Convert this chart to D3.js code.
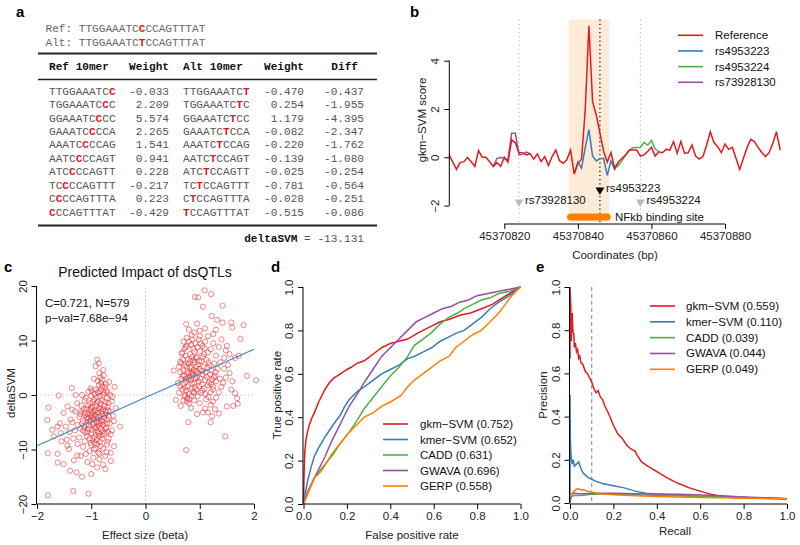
<!DOCTYPE html>
<html><head><meta charset="utf-8">
<script src="https://cdn.jsdelivr.net/npm/d3@7"></script>
<style>body{margin:0;background:#fff} svg{display:block}</style>
</head><body>
<svg id="fig" width="800" height="545"></svg>
<script>
// ================= DATA =================
// Panel a
const refSeq = "TTGGAAATCCCCAGTTTAT";
const altSeq = "TTGGAAATCTCCAGTTTAT";
const snpPos = 9;
const tableHeaders = ["Ref 10mer", "Weight", "Alt 10mer", "Weight", "Diff"];
const refKmers = ["TTGGAAATCC","TGGAAATCCC","GGAAATCCCC","GAAATCCCCA","AAATCCCCAG","AATCCCCAGT","ATCCCCAGTT","TCCCCAGTTT","CCCCAGTTTA","CCCAGTTTAT"];
const altKmers = ["TTGGAAATCT","TGGAAATCTC","GGAAATCTCC","GAAATCTCCA","AAATCTCCAG","AATCTCCAGT","ATCTCCAGTT","TCTCCAGTTT","CTCCAGTTTA","TCCAGTTTAT"];
const refWeights = ["-0.033","2.209","5.574","2.265","1.541","0.941","0.228","-0.217","0.223","-0.429"];
const altWeights = ["-0.470","0.254","1.179","-0.082","-0.220","-0.139","-0.025","-0.781","-0.028","-0.515"];
const diffs = ["-0.437","-1.955","-4.395","-2.347","-1.762","-1.080","-0.254","-0.564","-0.251","-0.086"];
const deltaSVMValue = "-13.131";

// Panel b
const bpStart = 45370805;
const refScore = [0.1,-0.2,-0.5,-0.22,-0.18,0.0,-0.18,-0.38,0.28,0.0,
  0.0,-0.18,-0.38,-0.22,-0.38,0.0,-0.2,0.72,0.6,0.19,
  0.19,0.1,0.15,-0.08,0.14,-0.18,0.03,-0.34,0.03,0.3,
  -0.14,-0.25,-0.1,0.3,-0.69,-0.25,-0.08,1.95,5.45,2.3,
  1.75,1.0,0.25,-0.2,0.2,-0.45,-0.2,-0.04,0.1,0.3,
  0.3,0.3,0.05,0.1,0.25,0.41,0.05,0.23,0.19,0.33,
  0.3,0.65,0.17,0.65,0.17,0.19,0.51,0.05,-0.07,0.03,
  0.5,1.06,0.61,0.44,0.19,0.55,0.33,0.41,-0.04,-0.5,
  -0.04,0.4,0.74,0.65,0.41,0.2,0.03,0.19,0.58,1.06,0.3];
const rs4953223Start = 34;
const rs4953223Score = [-0.69,-0.2,-0.45,0.4,1.15,0.05,-0.15,-0.05,-0.05,-0.75,-0.15,-0.5,-0.2];
const rs4953224Start = 45;
const rs4953224Score = [-0.45,-0.35,-0.15,0.1,0.3,0.4,0.41,0.42,0.62,0.5,0.7,0.35,0.23];
const rs73928130Start = 12;
const rs73928130Score = [-0.38,-0.05,0.0,-0.05,-0.1,1.0,1.0,0.1,0.12,0.22,0.15];
const snpNames = ["rs73928130","rs4953223","rs4953224"];
const snpCoords = [45370824, 45370846, 45370857];
const nfkbSite = [45370838, 45370848];
const bTicksX = [45370820, 45370840, 45370860, 45370880];
const bTicksY = [-2, 0, 2, 4];
const bLegend = ["Reference","rs4953223","rs4953224","rs73928130"];

// Panel c
const cTicksX = [-2,-1,0,1,2];
const cTicksY = [-20,-10,0,10,20];
const fitX = [-2, 2];
const fitY = [-9.3, 8.4];
const dsqtlPoints = [
 [-1.8,-18.4],[-1.05,-18.1],[-1.33,-17.6],[-1.39,-13.9],[-1.17,-15.0],[-1.27,-14.2],[-1.51,-12.7],[-1.62,-12.4],[-1.8,-10.7],[-1.62,-10.8],
 [-1.41,-9.9],[-1.44,-9.3],[-1.26,-11.1],[-1.2,-11.2],[-1.07,-12.3],[-0.98,-12.7],[-0.89,-13.3],[-0.74,-13.6],[-0.64,-12.1],[-0.64,-10.6],
 [-0.74,-11.2],[-0.87,-10.6],[-0.95,-10.0],[-1.01,-8.8],[-0.83,-9.4],[-0.71,-9.1],[-0.58,-9.4],[-0.47,-5.8],[-0.58,-4.8],[-0.55,-2.4],
 [-0.61,-0.3],[-0.57,1.5],[-0.67,2.4],[-0.77,3.6],[-0.89,6.5],[-0.92,5.3],[-1.01,1.2],[-1.17,0.0],[-1.29,0.0],[-1.36,1.3],
 [-1.6,-0.1],[-1.79,-2.3],[-1.72,-6.4],[-1.62,-5.8],[-1.56,-7.0],[-1.47,-5.8],[-1.51,-3.3],[-1.44,-2.1],[-1.35,-2.7],[-1.26,-1.5],
 [-1.58,-5.2],[-1.69,-7.6],[-1.81,-4.6],[-1.55,-8.5],[-1.3,-6.5],[-1.22,-7.8],[-1.15,-9.5],[-1.1,-10.8],[-1.32,-12.0],[-1.0,-14.5],
 [-0.85,-11.8],[-0.78,-12.8],[-0.68,-8.0],[-0.62,-6.5],[-0.66,-3.0],[-0.7,0.5],[-0.75,1.5],[-0.82,2.2],[-0.95,3.0],[-0.85,4.0],
 [-1.1,-0.5],[-1.2,-3.5],[-1.38,-4.5],[-1.45,-8.2],
 [-1.05,-4.2],[-1.0,-3.8],[-0.95,-4.5],[-0.9,-5.0],[-0.85,-4.0],[-0.8,-3.5],[-0.78,-5.5],[-0.82,-6.2],[-0.88,-6.8],[-0.92,-2.8],
 [-0.98,-2.2],[-1.02,-1.5],[-1.08,-2.5],[-1.12,-3.2],[-1.15,-4.8],[-1.1,-5.5],[-1.05,-6.2],[-1.0,-7.0],[-0.95,-7.8],[-0.9,-8.3],
 [-0.85,-7.5],[-0.8,-8.0],[-0.75,-7.0],[-0.72,-6.0],[-0.7,-4.5],[-0.73,-3.0],[-0.76,-2.0],[-0.8,-1.0],[-0.84,-0.2],[-0.88,0.5],
 [-0.82,1.0],[-0.78,0.0],[-0.74,-1.2],[-0.7,-2.2],[-0.68,-1.5],[-0.72,0.8],[-0.9,-1.5],[-0.95,-0.8],[-1.0,-0.2],[-1.05,0.6],
 [-1.12,-1.0],[-1.18,-2.0],[-1.22,-4.0],[-1.25,-5.5],[-1.15,-6.5],[-1.08,-7.5],[-1.12,-8.5],[-1.0,-9.2],[-0.92,-9.8],[-0.78,-9.8],
 [-0.72,-10.5],[-0.85,-10.8],[-0.96,-11.5],[-1.03,-10.3],[-0.88,-3.2],[-0.83,-2.4],[-0.87,-5.6],[-0.93,-6.1],[-0.97,-5.3],[-1.03,-4.9],
 [-0.99,-3.3],[-0.94,-3.6],[-0.89,-4.3],[-0.81,-4.7],[-0.76,-4.2],[-0.79,-6.6],[-0.86,-7.1],[-0.91,-7.3],[-1.06,-3.5],[-1.09,-4.1],
 [-1.13,-5.9],[-1.2,-6.2],[-0.66,-5.2],[-0.64,-7.2],[-0.7,-8.6],[-0.6,-3.8],[-0.62,-1.2],[-0.65,0.0],[-0.73,2.0],[-0.8,2.8],
 [-0.86,1.8],[-0.92,1.0],[-0.97,-1.3],[-1.02,-2.8],[-1.3,-3.0],[-1.35,-5.0],[-1.4,-6.8],[-1.25,-9.0],[-1.33,-8.0],
 [-1.04,-5.6],[-0.99,-6.4],[-0.94,-5.8],[-0.9,-6.0],[-0.86,-5.0],[-0.83,-5.2],[-0.79,-4.9],[-0.77,-3.8],[-0.81,-3.0],[-0.86,-2.6],
 [-0.91,-3.9],[-0.96,-4.1],[-1.01,-4.6],[-1.07,-4.4],[-1.11,-3.7],[-1.14,-2.6],[-1.06,-1.9],[-1.01,-2.5],[-0.96,-3.0],[-0.92,-2.0],
 [-0.87,-1.2],[-0.83,-1.6],[-0.78,-2.6],[-0.74,-3.6],[-0.71,-5.2],[-0.75,-6.2],[-0.79,-7.4],[-0.84,-8.6],[-0.89,-9.0],[-0.94,-8.8],
 [-0.98,-8.2],[-1.03,-8.0],[-1.07,-6.8],[-1.11,-6.9],[-1.17,-5.2],[-1.19,-3.0],[-0.69,-6.8],[-0.67,-4.0],[-0.69,-2.8],[-0.71,-0.6],
 [-0.76,0.4],[-0.8,1.6],[-0.84,0.6],[-0.9,-0.4],[-0.94,0.2],[-0.99,0.8],[-0.88,2.6],[-0.83,3.2],[-0.78,4.6],[-0.86,5.8],
 [1.09,19.2],[1.21,18.5],[0.91,18.0],[0.97,17.9],[1.06,16.2],[1.42,16.4],[0.75,13.0],[0.95,13.1],[1.22,14.5],[1.32,13.8],
 [1.42,13.3],[1.58,13.3],[1.81,12.8],[1.6,12.4],[1.75,10.3],[2.04,2.7],[1.87,3.5],[1.69,-0.6],[1.7,-1.6],[1.62,-2.0],
 [1.5,-2.1],[1.47,-7.6],[1.2,-5.0],[1.06,-3.2],[1.23,-3.9],[0.79,-5.0],[0.75,-10.1],[0.95,-3.5],[0.84,-2.4],[0.56,-0.9],
 [0.52,4.5],[0.64,6.1],[0.67,7.6],[0.74,8.8],[1.3,12.0],[1.1,12.2],[0.85,11.0],[1.0,11.8],[1.15,10.8],[1.25,11.2],
 [1.4,10.2],[1.5,9.0],[1.55,7.5],[1.65,6.8],[1.72,7.2],[1.48,8.2],[1.38,6.0],[1.45,4.8],[1.55,4.0],[1.6,2.5],
 [1.4,1.5],[1.35,0.5],[1.3,-0.5],[1.2,-1.8],[1.1,-2.5],[1.0,-1.5],[0.9,-1.0],[0.8,-1.5],[0.7,-1.0],[0.65,-2.0],
 [1.28,-2.6],[1.15,-3.2],[1.35,-3.4],
 [0.7,2.0],[0.75,3.0],[0.8,4.0],[0.85,5.0],[0.9,6.0],[0.95,7.0],[1.0,8.0],[1.05,9.0],[0.72,5.5],[0.78,6.5],
 [0.82,7.5],[0.88,8.5],[0.92,9.5],[0.98,10.2],[0.7,9.8],[0.76,10.5],[0.84,9.2],[1.08,7.5],[1.12,6.5],[1.18,5.5],
 [1.22,4.5],[1.28,3.5],[1.3,2.5],[1.25,1.5],[1.2,0.5],[1.15,1.8],[1.1,2.8],[1.05,3.8],[1.0,4.8],[0.95,3.2],
 [0.9,2.2],[0.85,1.2],[0.8,0.2],[0.75,0.8],[0.72,-0.3],[0.68,1.0],[0.66,3.0],[0.64,4.2],[0.6,2.2],[0.62,0.4],
 [0.87,3.6],[0.93,4.4],[0.97,5.6],[1.03,6.2],[1.07,5.2],[1.13,3.3],[1.17,2.3],[1.23,2.8],[1.27,5.8],[1.33,4.8],
 [1.37,3.0],[1.43,2.2],[1.3,7.2],[1.2,8.4],[1.1,9.8],[1.0,10.8],[0.9,11.5],[0.8,12.0],[0.74,7.2],[0.83,2.7],
 [0.78,1.6],[0.88,0.6],[0.96,-0.2],[1.02,0.4],[1.08,1.2],[1.12,-0.8],[0.7,4.5],[0.76,5.2],[0.81,3.3],[0.86,2.1],
 [0.91,1.4],[0.98,2.5],[1.04,1.9],[0.73,1.3],[0.77,-0.6],[0.69,6.5],[0.93,6.8],[0.99,6.2],[1.15,7.8],[1.25,9.5],
 [1.35,8.8],[1.45,6.8],[1.52,5.5],[1.48,3.2],[1.58,1.0],[1.65,0.3],
 [0.71,3.6],[0.74,2.4],[0.77,4.2],[0.79,5.8],[0.83,6.2],[0.86,7.0],[0.89,4.6],[0.92,3.0],[0.94,5.2],[0.97,4.0],
 [1.01,3.0],[1.04,4.4],[1.06,7.0],[1.09,8.6],[1.11,4.2],[1.14,5.0],[1.16,6.0],[1.19,3.8],[1.21,2.0],[1.24,1.0],
 [1.26,3.2],[1.29,4.2],[0.68,7.8],[0.72,8.5],[0.76,9.0],[0.8,9.8],[0.86,10.2],[0.9,8.0],[0.96,8.8],[1.02,9.4],
 [0.73,0.0],[0.76,-1.2],[0.81,-0.8],[0.85,-0.2],[0.9,0.4],[0.94,1.0],[0.99,1.6],[1.05,0.8],[1.1,0.2],[1.16,-0.4],
 [1.24,-1.2],[0.62,5.2],[0.66,5.8],[0.69,3.4],[0.64,1.6],[0.87,4.1],[0.82,5.1],[0.79,2.9],[0.88,6.4],[0.84,3.9]
];

// Panel d (ROC)
const rateTicks = [0, 0.2, 0.4, 0.6, 0.8, 1.0];
const methodNames = ["gkm\u2212SVM","kmer\u2212SVM","CADD","GWAVA","GERP"];
const aucROC = ["0.752","0.652","0.631","0.696","0.558"];
const aucPR = ["0.559","0.110","0.039","0.044","0.049"];
const rocGkm = [[0,0],[0.003,0.15],[0.006,0.24],[0.012,0.3],[0.025,0.36],[0.04,0.4],[0.05,0.42],[0.07,0.47],[0.1,0.53],[0.12,0.56],[0.14,0.58],[0.17,0.6],[0.2,0.62],[0.22,0.63],[0.25,0.65],[0.28,0.66],[0.32,0.69],[0.36,0.72],[0.4,0.74],[0.44,0.75],[0.48,0.76],[0.53,0.79],[0.59,0.82],[0.63,0.84],[0.67,0.85],[0.72,0.87],[0.77,0.88],[0.82,0.9],[0.87,0.92],[0.9,0.94],[0.95,0.97],[1,1]];
const rocKmer = [[0,0],[0.01,0.06],[0.02,0.11],[0.035,0.17],[0.05,0.22],[0.07,0.26],[0.1,0.31],[0.12,0.34],[0.14,0.37],[0.17,0.41],[0.19,0.45],[0.21,0.48],[0.25,0.52],[0.28,0.54],[0.32,0.57],[0.36,0.6],[0.4,0.62],[0.44,0.64],[0.48,0.67],[0.51,0.68],[0.55,0.7],[0.59,0.72],[0.63,0.75],[0.67,0.77],[0.71,0.79],[0.74,0.8],[0.78,0.83],[0.82,0.86],[0.86,0.9],[0.9,0.93],[0.95,0.96],[1,1]];
const rocCadd = [[0,0],[0.02,0.05],[0.05,0.12],[0.08,0.16],[0.13,0.22],[0.17,0.28],[0.21,0.33],[0.25,0.39],[0.28,0.44],[0.32,0.49],[0.36,0.54],[0.4,0.59],[0.44,0.63],[0.48,0.68],[0.51,0.73],[0.55,0.76],[0.59,0.79],[0.63,0.83],[0.67,0.86],[0.71,0.88],[0.74,0.9],[0.78,0.92],[0.82,0.94],[0.86,0.95],[0.9,0.97],[0.95,0.98],[1,1]];
const rocGwava = [[0,0],[0.02,0.06],[0.04,0.1],[0.07,0.16],[0.1,0.22],[0.13,0.29],[0.16,0.35],[0.19,0.41],[0.21,0.45],[0.25,0.51],[0.28,0.56],[0.32,0.62],[0.36,0.68],[0.4,0.72],[0.44,0.76],[0.48,0.8],[0.52,0.84],[0.56,0.86],[0.6,0.88],[0.64,0.9],[0.68,0.91],[0.72,0.93],[0.76,0.94],[0.8,0.96],[0.85,0.97],[0.9,0.98],[0.95,0.99],[1,1]];
const rocGerp = [[0,0],[0.02,0.05],[0.05,0.12],[0.08,0.15],[0.1,0.18],[0.13,0.23],[0.17,0.28],[0.21,0.33],[0.25,0.37],[0.28,0.4],[0.32,0.42],[0.36,0.45],[0.4,0.47],[0.45,0.5],[0.48,0.54],[0.51,0.57],[0.55,0.6],[0.59,0.63],[0.63,0.66],[0.67,0.68],[0.7,0.72],[0.74,0.75],[0.78,0.78],[0.82,0.8],[0.86,0.84],[0.9,0.88],[0.93,0.92],[0.96,0.96],[1,1]];

// Panel e (PR)
const prGkm = [[0,0.67],[0,1.0],[0.004,0.9],[0.006,0.75],[0.01,0.88],[0.013,0.8],[0.018,0.78],[0.02,0.72],[0.025,0.74],[0.03,0.7],[0.035,0.71],[0.04,0.67],[0.045,0.68],[0.05,0.65],[0.06,0.64],[0.07,0.61],[0.08,0.6],[0.09,0.58],[0.1,0.56],[0.11,0.53],[0.12,0.51],[0.13,0.52],[0.14,0.49],[0.15,0.48],[0.16,0.45],[0.18,0.41],[0.2,0.36],[0.22,0.32],[0.24,0.3],[0.26,0.27],[0.28,0.25],[0.3,0.24],[0.31,0.22],[0.33,0.19],[0.36,0.17],[0.4,0.145],[0.45,0.115],[0.5,0.09],[0.55,0.07],[0.6,0.055],[0.65,0.04],[0.7,0.03],[0.75,0.026],[0.8,0.024],[0.9,0.022],[1,0.02]];
const prKmer = [[0,0],[0,0.5],[0.002,0.28],[0.005,0.22],[0.01,0.18],[0.015,0.2],[0.02,0.17],[0.03,0.18],[0.04,0.19],[0.05,0.16],[0.06,0.14],[0.08,0.12],[0.1,0.11],[0.12,0.1],[0.15,0.09],[0.2,0.08],[0.25,0.07],[0.3,0.055],[0.35,0.045],[0.4,0.04],[0.5,0.035],[0.6,0.03],[0.7,0.028],[0.8,0.025],[0.9,0.022],[1,0.02]];
const prCadd = [[0,0.0],[0.005,0.03],[0.02,0.035],[0.05,0.035],[0.1,0.04],[0.2,0.04],[0.3,0.038],[0.4,0.035],[0.5,0.033],[0.6,0.03],[0.7,0.028],[0.8,0.025],[0.9,0.022],[1,0.02]];
const prGwava = [[0,0.0],[0.005,0.04],[0.02,0.045],[0.05,0.042],[0.1,0.045],[0.2,0.045],[0.3,0.043],[0.4,0.042],[0.5,0.04],[0.6,0.037],[0.7,0.033],[0.8,0.028],[0.9,0.024],[1,0.02]];
const prGerp = [[0,0.03],[0.01,0.045],[0.02,0.055],[0.03,0.065],[0.04,0.066],[0.05,0.06],[0.06,0.062],[0.08,0.055],[0.1,0.05],[0.15,0.042],[0.2,0.038],[0.3,0.034],[0.4,0.03],[0.5,0.028],[0.6,0.026],[0.7,0.024],[0.8,0.022],[1,0.02]];
const recallCutoff = 0.1;

// ================= STYLE =================
const SANS = "'Liberation Sans', Arial, Helvetica, sans-serif";
const MONO = "'Liberation Mono', 'Courier New', monospace";
const COLORS = ["#E41A1C","#377EB8","#4DAF4A","#984EA3","#FF7F00"];
const svg = d3.select("#fig");

function panelLabel(t, x, y){
  svg.append("text").attr("x",x).attr("y",y).text(t)
    .style("font-family",SANS).style("font-weight","bold").style("font-size","15px");
}

// R-like axes: axis line from first to last tick, labels rotated on y
function rAxisBottom(scale, ticks, y, fmt){
  const g = svg.append("g").attr("transform",`translate(0,${y})`)
    .call(d3.axisBottom(scale).tickValues(ticks).tickFormat(fmt).tickSizeOuter(0).tickSize(5).tickPadding(3));
  g.select(".domain").remove();
  g.append("line").attr("x1",scale(ticks[0])).attr("x2",scale(ticks[ticks.length-1])).attr("stroke","#000");
  g.selectAll("text").style("font-family",SANS).style("font-size","11.5px").attr("fill","#222");
  g.selectAll(".tick line").attr("stroke","#000");
  return g;
}
function rAxisLeft(scale, ticks, x, fmt){
  const g = svg.append("g").attr("transform",`translate(${x},0)`)
    .call(d3.axisLeft(scale).tickValues(ticks).tickFormat(fmt).tickSizeOuter(0).tickSize(5));
  g.select(".domain").remove();
  g.append("line").attr("y1",scale(ticks[0])).attr("y2",scale(ticks[ticks.length-1])).attr("stroke","#000");
  g.selectAll(".tick line").attr("stroke","#000");
  g.selectAll("text").attr("x",null).attr("dy",null)
    .attr("transform","translate(-14,0) rotate(-90)")
    .attr("dominant-baseline","central")
    .style("text-anchor","middle").style("font-family",SANS).style("font-size","11.5px").attr("fill","#222");
  return g;
}
const fmtMinus = d => String(d).replace("-","\u2212");
function axisTitle(t, x, y, rot){
  svg.append("text").attr("transform",`translate(${x},${y})${rot?" rotate(-90)":""}`)
    .attr("text-anchor","middle").attr("dominant-baseline","central").text(t)
    .style("font-family",SANS).style("font-size","11.5px").attr("fill","#222");
}

// ================= PANEL A =================
panelLabel("a", 16, 17);
const aText = svg.append("g").style("font-family",MONO).style("font-size","11.1px");
function seqLine(label, seq, red, y){
  const t = aText.append("text").attr("x",45.5).attr("y",y).attr("dominant-baseline","central").attr("fill","#666");
  t.append("tspan").text(label + seq.slice(0,red));
  t.append("tspan").text(seq[red]).attr("fill","#E8141E").style("font-weight","bold");
  t.append("tspan").text(seq.slice(red+1));
}
seqLine("Ref: ", refSeq, snpPos, 29);
seqLine("Alt: ", altSeq, snpPos, 42.5);
svg.append("line").attr("x1",38).attr("x2",377).attr("y1",53.5).attr("y2",53.5).attr("stroke","#222").attr("stroke-width",1.8);
svg.append("line").attr("x1",38).attr("x2",377).attr("y1",79.5).attr("y2",79.5).attr("stroke","#222").attr("stroke-width",1.3);
svg.append("line").attr("x1",38).attr("x2",377).attr("y1",225.5).attr("y2",225.5).attr("stroke","#222").attr("stroke-width",1.8);
const colX = [49, 169, 183, 304, 358];
const colAnchor = ["start","end","start","end","end"];
tableHeaders.forEach((h,i)=>{
  aText.append("text").attr("x",colX[i]).attr("y",66.5).attr("dominant-baseline","central")
    .attr("text-anchor",colAnchor[i]).style("font-weight","bold").attr("fill","#111").text(h);
});
const rowY = d3.scaleLinear().domain([0,9]).range([91.7, 212.5]);
function kmerText(x, y, kmer, red){
  const t = aText.append("text").attr("x",x).attr("y",y).attr("dominant-baseline","central").attr("fill","#555");
  t.append("tspan").text(kmer.slice(0,red));
  t.append("tspan").text(kmer[red]).attr("fill","#E8141E").style("font-weight","bold");
  t.append("tspan").text(kmer.slice(red+1));
}
refKmers.forEach((k,i)=>{
  const y = rowY(i), red = snpPos - i;
  kmerText(49, y, k, red);
  kmerText(183, y, altKmers[i], red);
  aText.append("text").attr("x",169).attr("y",y).attr("dominant-baseline","central").attr("text-anchor","end").attr("fill","#555").text(refWeights[i]);
  aText.append("text").attr("x",304).attr("y",y).attr("dominant-baseline","central").attr("text-anchor","end").attr("fill","#555").text(altWeights[i]);
  aText.append("text").attr("x",364).attr("y",y).attr("dominant-baseline","central").attr("text-anchor","end").attr("fill","#555").text(diffs[i]);
});
const dt = aText.append("text").attr("x",364).attr("y",239).attr("dominant-baseline","central").attr("text-anchor","end");
dt.append("tspan").text("deltaSVM").style("font-weight","bold").attr("fill","#111");
dt.append("tspan").text(" = " + deltaSVMValue).attr("fill","#555");

// ================= PANEL B =================
panelLabel("b", 410, 17);
const xB = d3.scaleLinear().domain([45370820, 45370880]).range([504.3, 725]);
const yB = d3.scaleLinear().domain([-2, 4]).range([205.6, 60.7]);
const bTop = 19.5, bBot = 222;
svg.append("rect").attr("x",xB(nfkbSite[0]-0.5)).attr("width",xB(nfkbSite[1]+0.5)-xB(nfkbSite[0]-0.5))
  .attr("y",bTop).attr("height",bBot-bTop).attr("fill","#FDEBD8");
snpCoords.forEach((c,i)=>{
  svg.append("line").attr("x1",xB(c)).attr("x2",xB(c)).attr("y1",bTop).attr("y2",bBot)
    .attr("stroke", i===1 ? "#000" : "#BBB").attr("stroke-width",1.2).attr("stroke-dasharray","1.2,3");
});
const lineB = d3.line().x(d=>xB(d[0])).y(d=>yB(d[1]));
const toPts = (start, arr) => arr.map((v,i)=>[bpStart+start+i, v]);
[[rs4953223Start, rs4953223Score, COLORS[1]],[rs4953224Start, rs4953224Score, COLORS[2]],[rs73928130Start, rs73928130Score, COLORS[3]]]
  .forEach(([s,arr,c])=>{
    svg.append("path").attr("d",lineB(toPts(s,arr))).attr("fill","none").attr("stroke",c).attr("stroke-width",1.5);
  });
svg.append("path").attr("d",lineB(toPts(0,refScore))).attr("fill","none").attr("stroke",COLORS[0]).attr("stroke-width",1.5);
rAxisBottom(xB, bTicksX, 224, d=>d);
rAxisLeft(yB, bTicksY, 449.3, fmtMinus);
axisTitle("Coordinates (bp)", 615, 255, false);
axisTitle("gkm\u2212SVM score", 421.5, 120, true);
// SNP markers
const triSym = d3.symbol().type(d3.symbolTriangle).size(34);
const snpMarkY = [202, 190, 202];
snpCoords.forEach((c,i)=>{
  svg.append("path").attr("d",triSym()).attr("transform",`translate(${xB(c)},${snpMarkY[i]}) rotate(180)`)
    .attr("fill", i===1 ? "#000" : "#BBBBBB");
  svg.append("text").attr("x",xB(c)+6).attr("y",snpMarkY[i]-2).attr("dominant-baseline","central").text(snpNames[i])
    .style("font-family",SANS).style("font-size","11.5px").attr("fill","#111");
});
svg.append("line").attr("x1",xB(nfkbSite[0])).attr("x2",xB(nfkbSite[1])).attr("y1",217).attr("y2",217)
  .attr("stroke","#FF7F00").attr("stroke-width",7).attr("stroke-linecap","round");
svg.append("text").attr("x",615).attr("y",216.5).attr("dominant-baseline","central").text("NFkb binding site")
  .style("font-family",SANS).style("font-size","11.5px").attr("fill","#111");
const bLegY = d3.scaleLinear().domain([0,3]).range([35.3, 82.3]);
const bLegColors = [COLORS[0], COLORS[1], COLORS[2], COLORS[3]];
bLegend.forEach((n,i)=>{
  svg.append("line").attr("x1",678).attr("x2",703).attr("y1",bLegY(i)).attr("y2",bLegY(i)).attr("stroke",bLegColors[i]).attr("stroke-width",1.6);
  svg.append("text").attr("x",715).attr("y",bLegY(i)).attr("dominant-baseline","central").text(n)
    .style("font-family",SANS).style("font-size","11.5px").attr("fill","#111");
});

// ================= PANEL C =================
panelLabel("c", 4, 272);
const xC = d3.scaleLinear().domain([-2,2]).range([37, 254]);
const yC = d3.scaleLinear().domain([-20,20]).range([504, 286]);
svg.append("line").attr("x1",xC(0)).attr("x2",xC(0)).attr("y1",yC(-20)).attr("y2",yC(20)).attr("stroke","#BBB").attr("stroke-dasharray","1.2,2.5");
svg.append("line").attr("x1",xC(-2)).attr("x2",xC(2)).attr("y1",yC(0)).attr("y2",yC(0)).attr("stroke","#BBB").attr("stroke-dasharray","1.2,2.5");
svg.append("g").selectAll("circle").data(dsqtlPoints).join("circle")
  .attr("cx",d=>xC(d[0])).attr("cy",d=>yC(d[1])).attr("r",2.6)
  .attr("fill","none").attr("stroke","#E8262B").attr("stroke-opacity",0.55).attr("stroke-width",1);
svg.append("line").attr("x1",xC(fitX[0])).attr("x2",xC(fitX[1])).attr("y1",yC(fitY[0])).attr("y2",yC(fitY[1]))
  .attr("stroke","#3C8AC4").attr("stroke-width",1.2);
rAxisBottom(xC, cTicksX, 504, fmtMinus);
rAxisLeft(yC, cTicksY, 36.5, fmtMinus);
axisTitle("Effect size (beta)", 145, 535, false);
axisTitle("deltaSVM", 11, 393, true);
svg.append("text").attr("x",145).attr("y",277).attr("text-anchor","middle").text("Predicted Impact of dsQTLs")
  .style("font-family",SANS).style("font-size","14px").attr("fill","#111");
svg.append("text").attr("x",45).attr("y",302.7).attr("dominant-baseline","central").text("C=0.721, N=579")
  .style("font-family",SANS).style("font-size","11.5px").attr("fill","#111");
svg.append("text").attr("x",45).attr("y",317.5).attr("dominant-baseline","central").text("p\u2212val=7.68e\u221294")
  .style("font-family",SANS).style("font-size","11.5px").attr("fill","#111");

// ================= PANEL D =================
panelLabel("d", 271, 272);
const xD = d3.scaleLinear().domain([0,1]).range([303.5, 520.5]);
const yD = d3.scaleLinear().domain([0,1]).range([504, 287]);
const lineD = d3.line().x(d=>xD(d[0])).y(d=>yD(d[1]));
[rocGkm, rocKmer, rocCadd, rocGwava, rocGerp].forEach((c,i)=>{
  svg.append("path").attr("d",lineD(c)).attr("fill","none").attr("stroke",COLORS[i]).attr("stroke-width",1.5);
});
rAxisBottom(xD, rateTicks, 504, d3.format(".1f"));
rAxisLeft(yD, rateTicks, 303, d3.format(".1f"));
axisTitle("False positive rate", 412, 535, false);
axisTitle("True positive rate", 276.5, 395, true);
const dLegY = d3.scaleLinear().domain([0,4]).range([424, 486]);
methodNames.forEach((n,i)=>{
  svg.append("line").attr("x1",383).attr("x2",408).attr("y1",dLegY(i)).attr("y2",dLegY(i)).attr("stroke",COLORS[i]).attr("stroke-width",1.6);
  svg.append("text").attr("x",420).attr("y",dLegY(i)).attr("dominant-baseline","central").text(`${n} (${aucROC[i]})`)
    .style("font-family",SANS).style("font-size","11.5px").attr("fill","#111");
});

// ================= PANEL E =================
panelLabel("e", 536, 272);
const xE = d3.scaleLinear().domain([0,1]).range([570, 787]);
const yE = d3.scaleLinear().domain([0,1]).range([503, 287]);
svg.append("line").attr("x1",xE(recallCutoff)).attr("x2",xE(recallCutoff)).attr("y1",yE(1)).attr("y2",yE(0))
  .attr("stroke","#999").attr("stroke-width",1.2).attr("stroke-dasharray","4,3");
const lineE = d3.line().x(d=>xE(d[0])).y(d=>yE(d[1]));
[prGkm, prKmer, prCadd, prGwava, prGerp].forEach((c,i)=>{
  svg.append("path").attr("d",lineE(c)).attr("fill","none").attr("stroke",COLORS[i]).attr("stroke-width",1.5);
});
rAxisBottom(xE, rateTicks, 504, d3.format(".1f"));
rAxisLeft(yE, rateTicks, 569.5, d3.format(".1f"));
axisTitle("Recall", 675, 531, false);
axisTitle("Precision", 542.5, 395, true);
const eLegY = d3.scaleLinear().domain([0,4]).range([306, 369.3]);
methodNames.forEach((n,i)=>{
  svg.append("line").attr("x1",650).attr("x2",675).attr("y1",eLegY(i)).attr("y2",eLegY(i)).attr("stroke",COLORS[i]).attr("stroke-width",1.6);
  svg.append("text").attr("x",686).attr("y",eLegY(i)).attr("dominant-baseline","central").text(`${n} (${aucPR[i]})`)
    .style("font-family",SANS).style("font-size","11.5px").attr("fill","#111");
});
</script>
</body></html>
